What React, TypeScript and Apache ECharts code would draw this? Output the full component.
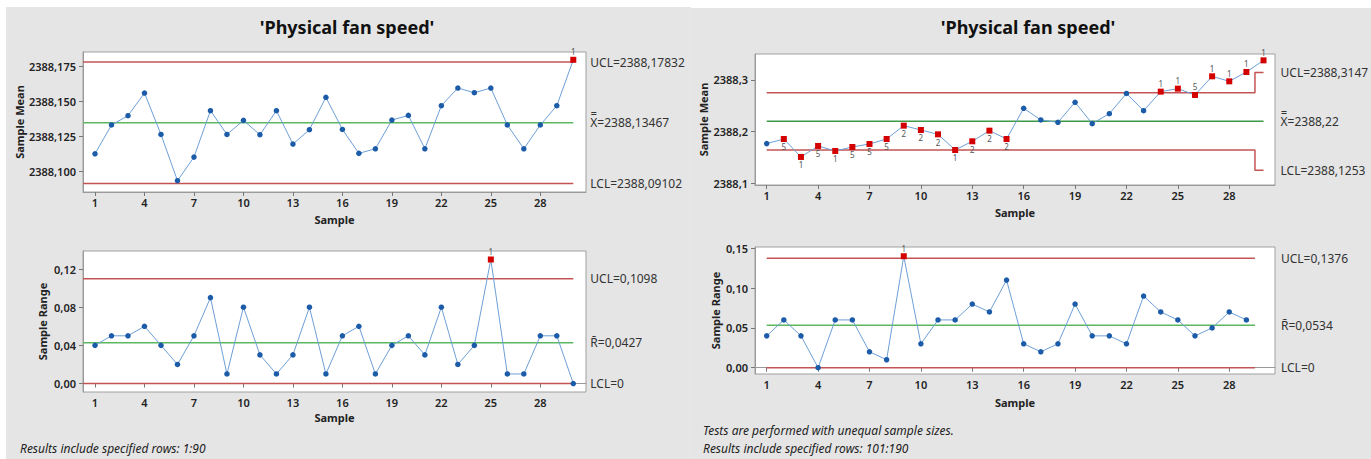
import React, { useEffect, useRef } from "react";
import * as echarts from "echarts";

const FONT = "'Noto Sans', 'Open Sans', sans-serif";

// ---- data ----
const sampleTicks = [1, 4, 7, 10, 13, 16, 19, 22, 25, 28];

// Left panel (rows 1:90)
const meanA = [
  2388.1124, 2388.1331, 2388.1398, 2388.1561, 2388.1263, 2388.093, 2388.11, 2388.1434, 2388.1263, 2388.1364,
  2388.1261, 2388.1434, 2388.1194, 2388.1297, 2388.153, 2388.1299, 2388.1127, 2388.116, 2388.1366, 2388.14,
  2388.116, 2388.147, 2388.1597, 2388.1563, 2388.1597, 2388.1331, 2388.116, 2388.1331, 2388.147, 2388.18,
];
const meanAFlags = ["", "", "", "", "", "", "", "", "", "", "", "", "", "", "", "", "", "", "", "", "", "", "", "", "", "", "", "", "", "1"];
const meanALimits = { ucl: 2388.17832, cl: 2388.13467, lcl: 2388.09102 };
const meanATicks = [2388.1, 2388.125, 2388.15, 2388.175];

const rangeA = [
  0.04, 0.05, 0.05, 0.06, 0.04, 0.02, 0.05, 0.09, 0.01, 0.08,
  0.03, 0.01, 0.03, 0.08, 0.01, 0.05, 0.06, 0.01, 0.04, 0.05,
  0.03, 0.08, 0.02, 0.04, 0.13, 0.01, 0.01, 0.05, 0.05, 0.0,
];
const rangeAFlags = ["", "", "", "", "", "", "", "", "", "", "", "", "", "", "", "", "", "", "", "", "", "", "", "", "1", "", "", "", "", ""];
const rangeALimits = { ucl: 0.1098, cl: 0.0427, lcl: 0 };
const rangeATicks = [0, 0.04, 0.08, 0.12];

// Right panel (rows 101:190)
const meanB = [
  2388.1768, 2388.1858, 2388.151, 2388.1723, 2388.1626, 2388.1703, 2388.1761, 2388.1858, 2388.2116, 2388.2032,
  2388.1948, 2388.1645, 2388.1813, 2388.2019, 2388.1858, 2388.2452, 2388.2226, 2388.2181, 2388.2568, 2388.2155,
  2388.2348, 2388.274, 2388.2406, 2388.2774, 2388.2832, 2388.271, 2388.3071, 2388.2974, 2388.3155, 2388.338,
];
const meanBFlags = ["", "5", "1", "5", "1", "5", "5", "5", "2", "2", "2", "1", "2", "2", "2", "", "", "", "", "", "", "", "", "1", "1", "5", "1", "1", "1", "1"];
const meanBCl = 2388.22;
const meanBUcl = [2388.2755, 2388.3147]; // regular samples, last sample (smaller size)
const meanBLcl = [2388.1645, 2388.1253];
const meanBTicks = [2388.1, 2388.2, 2388.3];

const rangeB = [
  0.04, 0.06, 0.04, 0.0, 0.06, 0.06, 0.02, 0.01, 0.14, 0.03,
  0.06, 0.06, 0.08, 0.07, 0.11, 0.03, 0.02, 0.03, 0.08, 0.04,
  0.04, 0.03, 0.09, 0.07, 0.06, 0.04, 0.05, 0.07, 0.06,
];
const rangeBFlags = ["", "", "", "", "", "", "", "", "1", "", "", "", "", "", "", "", "", "", "", "", "", "", "", "", "", "", "", "", ""];
const rangeBLimits = { ucl: 0.1376, cl: 0.0534, lcl: 0 };
const rangeBTicks = [0, 0.05, 0.1, 0.15];

// ---- styling helpers ----
const RED = "#c45454";
const GREEN = "#5cb860";

function comma(v: number, d: number) {
  return v.toFixed(d).replace(".", ",");
}

function dataSeries(xi: number, values: number[], flags: string[], center: number) {
  return {
    type: "line",
    xAxisIndex: xi,
    yAxisIndex: xi,
    showAllSymbol: true,
    z: 5,
    lineStyle: { color: "#6d9fd6", width: 1 },
    data: values.map((v, i) => {
      const f = flags[i] !== "";
      return {
        value: [i + 1, v],
        symbol: f ? "rect" : "circle",
        symbolSize: f ? 6 : 5.5,
        itemStyle: { color: f ? "#d40000" : "#1b5ba8" },
        label: f
          ? {
              show: true,
              formatter: flags[i],
              position: v >= center ? "top" : "bottom",
              distance: 1,
              fontSize: 8,
              color: "#555",
              fontFamily: FONT,
            }
          : { show: false },
      };
    }),
  };
}

function limitSeries(xi: number, pts: number[][], color: string, text: string, dist: number, step?: any) {
  return {
    type: "line",
    xAxisIndex: xi,
    yAxisIndex: xi,
    data: pts,
    symbol: "none",
    silent: true,
    step: step || false,
    z: 3,
    lineStyle: { color, width: 1.5 },
    endLabel: {
      show: true,
      formatter: text,
      distance: dist,
      color: "#333",
      fontSize: 12,
      fontFamily: FONT,
    },
  };
}

const grids = [
  { left: 83, top: 52, width: 503, height: 140 },
  { left: 83, top: 251, width: 503, height: 141 },
  { left: 755, top: 54, width: 520, height: 131 },
  { left: 755, top: 247, width: 520, height: 127 },
];
const xRanges = [
  [0.272, 30.77],
  [0.272, 30.77],
  [0.317, 30.67],
  [0.317, 30.67],
];
const yRanges = [
  [2388.0849, 2388.1856],
  [-0.0089, 0.1389],
  [2388.0967, 2388.3503],
  [-0.0079, 0.1516],
];
const yTicks = [meanATicks, rangeATicks, meanBTicks, rangeBTicks];
const yFmt = [
  (v: number) => comma(v, 3),
  (v: number) => comma(v, 2),
  (v: number) => comma(v, 1),
  (v: number) => comma(v, 2),
];
const yNames = ["Sample Mean", "Sample Range", "Sample Mean", "Sample Range"];
const yNameGaps = [57, 35, 46, 34];
const xNameGaps = [22, 20, 22, 23];

export default function App() {
  const ref = useRef<HTMLDivElement>(null);
  useEffect(() => {
    document.body.style.margin = "0";
    if (!ref.current) return;
    const chart = echarts.init(ref.current, undefined, { renderer: "svg" });

    const axisText = { color: "#222", fontSize: 11, fontFamily: FONT, fontWeight: 600 };

    const xAxis = grids.map((_, i) => ({
      type: "value",
      gridIndex: i,
      min: xRanges[i][0],
      max: xRanges[i][1],
      name: "Sample",
      nameLocation: "middle",
      nameGap: xNameGaps[i],
      nameTextStyle: { color: "#222", fontSize: 11, fontWeight: "bold", fontFamily: FONT },
      splitLine: { show: false },
      axisLine: { show: true, lineStyle: { color: "#9a9a9a" } },
      axisTick: { show: true, length: 4, customValues: sampleTicks, lineStyle: { color: "#777" } },
      axisLabel: { ...axisText, margin: 5, customValues: sampleTicks, formatter: (v: number) => String(v) },
    }));

    const yAxis = grids.map((_, i) => ({
      type: "value",
      gridIndex: i,
      min: yRanges[i][0],
      max: yRanges[i][1],
      name: yNames[i],
      nameLocation: "middle",
      nameGap: yNameGaps[i],
      nameTextStyle: { color: "#222", fontSize: 11, fontWeight: "bold", fontFamily: FONT },
      splitLine: { show: false },
      axisLine: { show: true, lineStyle: { color: "#9a9a9a" } },
      axisTick: { show: true, length: 4, customValues: yTicks[i], lineStyle: { color: "#777" } },
      axisLabel: { ...axisText, margin: 7, customValues: yTicks[i], formatter: yFmt[i] },
    }));

    const lastA = meanA.length;
    const xa0 = xRanges[0][0];
    const lastB = rangeB.length;
    const ptsB = meanB.map((_, i) => i + 1);
    const nB = meanB.length;

    const series: any[] = [
      // left mean
      limitSeries(0, [[xa0, meanALimits.ucl], [lastA, meanALimits.ucl]], RED, "UCL=" + comma(meanALimits.ucl, 5), 17),
      limitSeries(0, [[xa0, meanALimits.cl], [lastA, meanALimits.cl]], GREEN, "X\u033F=" + comma(meanALimits.cl, 5), 17),
      limitSeries(0, [[xa0, meanALimits.lcl], [lastA, meanALimits.lcl]], RED, "LCL=" + comma(meanALimits.lcl, 5), 17),
      dataSeries(0, meanA, meanAFlags, meanALimits.cl),
      // left range
      limitSeries(1, [[xa0, rangeALimits.ucl], [lastA, rangeALimits.ucl]], RED, "UCL=" + comma(rangeALimits.ucl, 4), 17),
      limitSeries(1, [[xa0, rangeALimits.cl], [lastA, rangeALimits.cl]], GREEN, "R\u0304=" + comma(rangeALimits.cl, 4), 17),
      limitSeries(1, [[xa0, rangeALimits.lcl], [lastA, rangeALimits.lcl]], RED, "LCL=0", 17),
      dataSeries(1, rangeA, rangeAFlags, rangeALimits.cl),
      // right mean
      limitSeries(2, ptsB.map((s) => [s, s === nB ? meanBUcl[1] : meanBUcl[0]]), RED, "UCL=" + comma(meanBUcl[1], 4), 17, "middle"),
      limitSeries(2, [[1, meanBCl], [nB, meanBCl]], "#3f9a46", "X\u033F=" + comma(meanBCl, 2), 17),
      limitSeries(2, ptsB.map((s) => [s, s === nB ? meanBLcl[1] : meanBLcl[0]]), RED, "LCL=" + comma(meanBLcl[1], 4), 17, "middle"),
      dataSeries(2, meanB, meanBFlags, meanBCl),
      // right range
      limitSeries(3, [[1, rangeBLimits.ucl], [lastB + 0.5, rangeBLimits.ucl]], RED, "UCL=" + comma(rangeBLimits.ucl, 4), 26),
      limitSeries(3, [[1, rangeBLimits.cl], [lastB + 0.5, rangeBLimits.cl]], GREEN, "R\u0304=" + comma(rangeBLimits.cl, 4), 26),
      limitSeries(3, [[1, rangeBLimits.lcl], [lastB + 0.5, rangeBLimits.lcl]], RED, "LCL=0", 26),
      dataSeries(3, rangeB, rangeBFlags, rangeBLimits.cl),
    ];

    chart.setOption({
      animation: false,
      backgroundColor: "#ffffff",
      grid: grids.map((g) => ({ ...g, show: true, backgroundColor: "#ffffff", borderColor: "#a0a0a0", borderWidth: 1 })),
      xAxis,
      yAxis,
      series,
      graphic: {
        elements: [
          { type: "rect", z: -10, silent: true, shape: { x: 6, y: 7, width: 683, height: 452 }, style: { fill: "#e5e5e5" } },
          { type: "rect", z: -10, silent: true, shape: { x: 691, y: 8, width: 680, height: 451 }, style: { fill: "#e5e5e5" } },
          { type: "line", z: -9, silent: true, shape: { x1: 690, y1: 7, x2: 690, y2: 459 }, style: { stroke: "#cfcfcf", lineWidth: 1 } },
          { type: "text", x: 347, y: 27, style: { text: "'Physical fan speed'", fill: "#111", font: `bold 18px ${FONT}`, textAlign: "center", textVerticalAlign: "middle" } },
          { type: "text", x: 1028, y: 27, style: { text: "'Physical fan speed'", fill: "#111", font: `bold 18px ${FONT}`, textAlign: "center", textVerticalAlign: "middle" } },
          { type: "text", x: 20, y: 448, style: { text: "Results include specified rows: 1:90", fill: "#222", font: `italic 12px ${FONT}`, textVerticalAlign: "middle" } },
          { type: "text", x: 703, y: 430, style: { text: "Tests are performed with unequal sample sizes.", fill: "#222", font: `italic 12px ${FONT}`, textVerticalAlign: "middle" } },
          { type: "text", x: 703, y: 448, style: { text: "Results include specified rows: 101:190", fill: "#222", font: `italic 12px ${FONT}`, textVerticalAlign: "middle" } },
        ],
      },
    });
    return () => chart.dispose();
  }, []);
  return <div ref={ref} style={{ width: 1371, height: 459 }} />;
}
